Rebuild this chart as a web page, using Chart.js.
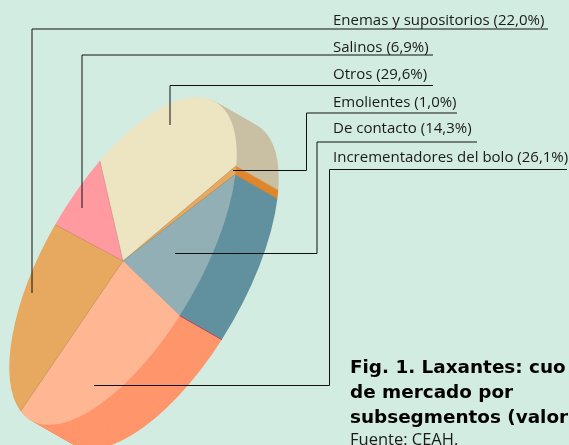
<!DOCTYPE html>
<html><head><meta charset="utf-8">
<style>html,body{margin:0;padding:0;background:#d3ece2;overflow:hidden}canvas{display:block}</style>
<script src="https://cdn.jsdelivr.net/npm/chart.js@4/dist/chart.umd.js"></script>
</head><body>
<canvas id="c" width="569" height="445"></canvas>
<script>
const categories = ['Enemas y supositorios','Salinos','Otros','Emolientes','De contacto','Incrementadores del bolo'];
const shares = [22.0, 6.9, 29.6, 1.0, 14.3, 26.1];
const topColors = ['#e6a95f','#ff9aa0','#ede4c1','#e6a95f','#91afb5','#ffb693'];
const sideColors = ['#d08a3a','#e87c86','#c9c0a4','#e0862b','#61919e','#ff956b'];
const titleLines = ['Fig. 1. Laxantes: cuo','de mercado por','subsegmentos (valor'];
const sourceLine = 'Fuente: CEAH.';

// Projection of the pie's disc to the page, and the depth of the extrusion
const centre = {x:123, y:261};
const axisU = {x:113.3, y:-95.1};
const axisV = {x:-10.1, y:133.4};
const depth = {x:42, y:24};
const startRotation = 239.04;

const labelX = 333;
const labelBaselines = [25,52,79,107,133,162];
const leaders = [
  [[548,29],[32,29],[32,293]],
  [[433,55],[82,55],[82,208]],
  [[433,85.5],[170,85.5],[170,125]],
  [[457,113],[306.5,113],[306.5,170.5],[233,170.5]],
  [[477,142],[317,142],[317,253.5],[175,253.5]],
  [[567,169.5],[329.5,169.5],[329.5,385.5],[94,385.5]]
];

function project(ctx, arc){
  const R = arc.outerRadius;
  const a = axisU.x/R, b = axisU.y/R, c = axisV.x/R, d = axisV.y/R;
  ctx.transform(a,b,c,d, centre.x-(a*arc.x+c*arc.y), centre.y-(b*arc.x+d*arc.y));
}
const pie3d = {
  id:'pie3d',
  beforeDraw(chart){
    const {ctx,width,height} = chart;
    ctx.save(); ctx.fillStyle='#d3ece2'; ctx.fillRect(0,0,width,height); ctx.restore();
  },
  beforeDatasetsDraw(chart){
    const ctx = chart.ctx, arcs = chart.getDatasetMeta(0).data;
    const n = 48;
    for(let k=n;k>=1;k--){
      ctx.save();
      ctx.translate(depth.x*k/n, depth.y*k/n);
      project(ctx, arcs[0]);
      arcs.forEach((arc,i)=>{
        const o = arc.options;
        arc.options = Object.assign(Object.create(o),{backgroundColor:sideColors[i],borderColor:sideColors[i],borderWidth:0});
        arc.draw(ctx);
        arc.options = o;
      });
      ctx.restore();
    }
    ctx.save();
    project(ctx, arcs[0]);
  },
  afterDatasetsDraw(chart){
    const ctx = chart.ctx, arcs = chart.getDatasetMeta(0).data;
    ctx.restore();
    const rim = (arc,ang)=>{
      const u=Math.cos(ang), v=Math.sin(ang);
      return {x:centre.x+axisU.x*u+axisV.x*v, y:centre.y+axisU.y*u+axisV.y*v};
    };
    // hairlines between slices
    ctx.save();
    ctx.lineWidth=0.6; ctx.strokeStyle='rgba(110,100,80,0.35)';
    arcs.forEach((arc,i)=>{
      if(i===4) return;
      const p = rim(arc,arc.endAngle);
      ctx.beginPath(); ctx.moveTo(centre.x,centre.y); ctx.lineTo(p.x,p.y); ctx.stroke();
    });
    // thin seam on the side wall between De contacto and Incrementadores
    const s = rim(arcs[4],arcs[4].endAngle);
    ctx.lineWidth=1; ctx.strokeStyle='#a8476f';
    ctx.beginPath(); ctx.moveTo(s.x,s.y); ctx.lineTo(s.x+depth.x,s.y+depth.y); ctx.stroke();
    ctx.restore();
  },
  afterDraw(chart){
    const ctx = chart.ctx;
    ctx.save();
    ctx.strokeStyle='#111'; ctx.lineWidth=1;
    leaders.forEach(l=>{
      ctx.beginPath();
      l.forEach((p,i)=> i?ctx.lineTo(p[0],p[1]):ctx.moveTo(p[0],p[1]));
      ctx.stroke();
    });
    ctx.fillStyle='#1a1a1a';
    ctx.textAlign='left'; ctx.textBaseline='alphabetic';
    ctx.font='15px "Open Sans"';
    categories.forEach((c,i)=>{
      ctx.fillText(c+' ('+shares[i].toFixed(1).replace('.',',')+'%)', labelX, labelBaselines[i]);
    });
    ctx.fillStyle='#000';
    ctx.font='bold 18.4px "DejaVu Sans"';
    titleLines.forEach((t,i)=> ctx.fillText(t,350,[373,398,423][i]));
    ctx.fillStyle='#1a1a1a';
    ctx.font='16.5px "Open Sans"';
    ctx.fillText(sourceLine,350,445);
    ctx.restore();
  }
};
new Chart(document.getElementById('c'),{
  type:'pie',
  data:{labels:categories,datasets:[{data:shares,backgroundColor:topColors,borderWidth:0,clip:false}]},
  options:{
    responsive:false,animation:false,rotation:startRotation,
    layout:{padding:0},
    events:[],
    plugins:{legend:{display:false},tooltip:{enabled:false},title:{display:false}}
  },
  plugins:[pie3d]
});
</script>
</body></html>
